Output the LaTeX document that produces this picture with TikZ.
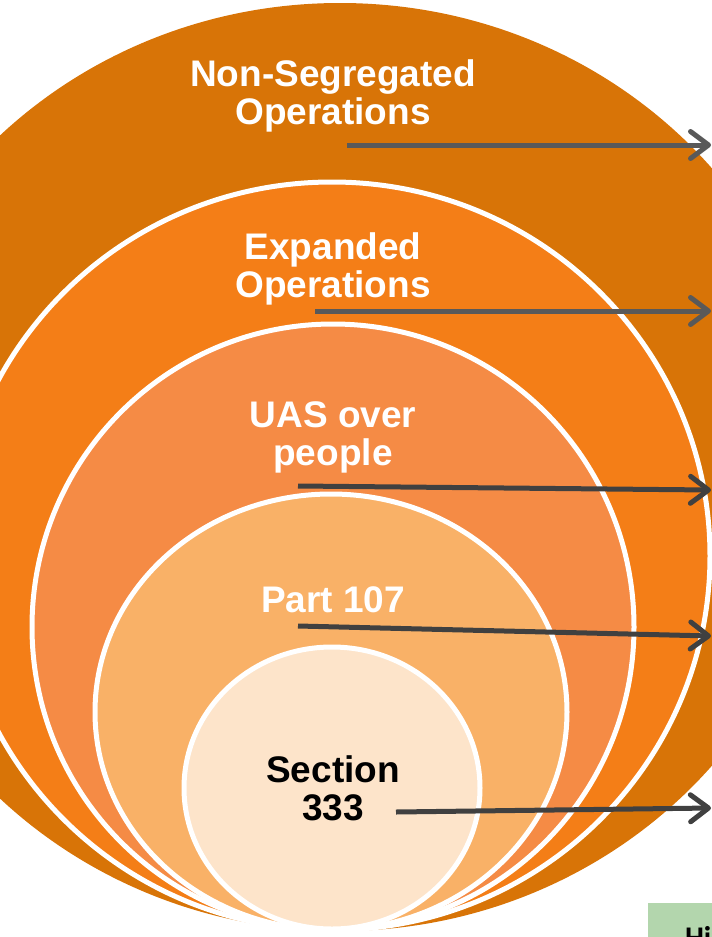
\documentclass[tikz,border=0pt]{standalone}
\usepackage{fontspec}
\setmainfont{Liberation Sans}
\newfontfamily\carlito{Carlito}
\usetikzlibrary{arrows.meta,shapes.geometric}
\definecolor{ringA}{HTML}{D87407}
\definecolor{ringB}{HTML}{F47E17}
\definecolor{ringC}{HTML}{F58B45}
\definecolor{ringD}{HTML}{F9B167}
\definecolor{ringE}{HTML}{FDE4CA}
\definecolor{arrowgrayA}{HTML}{595959}
\definecolor{arrowgrayB}{HTML}{404040}
\definecolor{notegreen}{HTML}{B3D6AD}
\begin{document}
\begin{tikzpicture}[x=1pt,y=-1pt,
  ring/.style={ellipse, inner sep=0pt, draw=white, line width=5pt},
  lbl/.style={font=\fontsize{37}{38}\selectfont\bfseries, align=center, text=white, inner sep=0pt},
  pointer/.style={line width=5pt, -{Straight Barb[round,length=18pt,width=27pt]}},
]
\useasboundingbox (0,0) rectangle (712,937);
\clip (0,0) rectangle (712,937);
\node[ring, fill=ringA, draw=none, minimum width=972pt, minimum height=928pt] (r1) at (340,467) {};
\node[ring, fill=ringB, minimum width=756pt, minimum height=748pt] (r2) at (332,556) {};
\node[ring, fill=ringC, minimum width=602pt, minimum height=606pt] (r3) at (333,627) {};
\node[ring, fill=ringD, minimum width=472pt, minimum height=436pt] (r4) at (331,712) {};
\node[ring, fill=ringE, minimum width=296pt, minimum height=282pt] (r5) at (332,788) {};

\node[lbl] (t1) at (333,96) {Non-Segregated\\Operations};
\node[lbl] (t2) at (333,269) {Expanded\\Operations};
\node[lbl] (t3) at (333,437) {UAS over\\people};
\node[lbl] (t4) at (333,600) {Part 107};
\node[lbl, text=black] (t5) at (333,788) {Section\\333};

\coordinate (s1) at (347,145); \coordinate (e1) at (711,145);
\coordinate (s2) at (315,311); \coordinate (e2) at (711,311);
\coordinate (s3) at (298,486); \coordinate (e3) at (711,490);
\coordinate (s4) at (298,626); \coordinate (e4) at (711,636);
\coordinate (s5) at (396,812); \coordinate (e5) at (711,808);
\draw[pointer, arrowgrayA] (s1) -- (e1);
\draw[pointer, arrowgrayA] (s2) -- (e2);
\draw[pointer, arrowgrayB] (s3) -- (e3);
\draw[pointer, arrowgrayB] (s4) -- (e4);
\draw[pointer, arrowgrayB] (s5) -- (e5);

\node[fill=notegreen, anchor=north west, minimum width=100pt,
  inner xsep=20pt, inner ysep=0pt, text height=44pt, text depth=20pt, align=left,
  font=\carlito\bfseries\fontsize{30}{34}\selectfont, text=black] (note) at (648,903) {Hi};
\end{tikzpicture}
\end{document}
